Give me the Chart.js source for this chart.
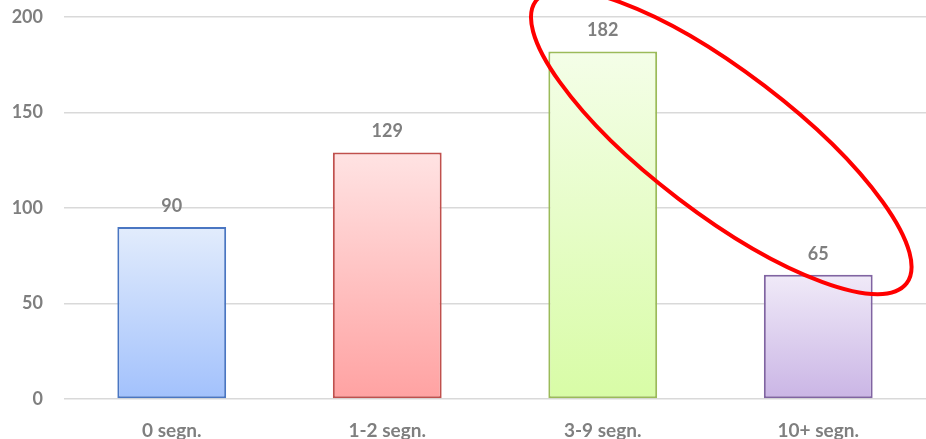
<!DOCTYPE html>
<html>
<head>
<meta charset="utf-8">
<script src="https://cdn.jsdelivr.net/npm/chart.js@4"></script>
<style>
  html, body { margin: 0; padding: 0; background: #fff; }
  #wrap { width: 926px; height: 439px; }
</style>
</head>
<body>
<div id="wrap"><canvas id="myBarChart" width="926" height="439"></canvas></div>
<script>
// data
const categories = ['0 segn.', '1-2 segn.', '3-9 segn.', '10+ segn.'];
const counts = [90, 129, 182, 65];
const yTicks = [0, 50, 100, 150, 200];

// bar colours: top of gradient, bottom of gradient, border
const topColors = ['#e2ecfc', '#ffe3e3', '#f4fee8', '#f0eaf8'];
const bottomColors = ['#a2c1fc', '#ffa2a2', '#d8fca6', '#cab5e5'];
const borderColors = ['#4a76c2', '#c0504d', '#9bbb59', '#8064a2'];

const textGrey = '#7f7f7f';
const fontFamily = 'Lato, "Liberation Sans", sans-serif';

// gradient fill for each bar, from its own top down to zero
function barGradient(context) {
  const chart = context.chart;
  const area = chart.chartArea;
  const i = context.dataIndex;
  if (!area || !chart.scales.y) return bottomColors[i];
  const yTop = chart.scales.y.getPixelForValue(counts[i]);
  const yBottom = chart.scales.y.getPixelForValue(0);
  const g = chart.ctx.createLinearGradient(0, yTop, 0, yBottom);
  g.addColorStop(0, topColors[i]);
  g.addColorStop(1, bottomColors[i]);
  return g;
}

// value labels above the bars
const valueLabels = {
  id: 'valueLabels',
  afterDatasetsDraw(chart) {
    const ctx = chart.ctx;
    const meta = chart.getDatasetMeta(0);
    ctx.save();
    ctx.font = 'bold 18px ' + fontFamily;
    ctx.fillStyle = textGrey;
    ctx.textAlign = 'center';
    ctx.textBaseline = 'middle';
    meta.data.forEach((bar, i) => {
      ctx.fillText(String(counts[i]), bar.x, bar.y - 21);
    });
    ctx.restore();
  }
};

// the red ring drawn round the last two bars
const redEllipse = {
  id: 'redEllipse',
  afterDraw(chart) {
    const ctx = chart.ctx;
    const cx = chart.scales.x.getPixelForValue(2.55);
    const cy = chart.scales.y.getPixelForValue(134.5);
    ctx.save();
    ctx.beginPath();
    ctx.ellipse(cx, cy, 233, 71, 37.3 * Math.PI / 180, 0, Math.PI * 2);
    ctx.lineWidth = 4;
    ctx.strokeStyle = '#ff0000';
    ctx.stroke();
    ctx.restore();
  }
};

new Chart(document.getElementById('myBarChart').getContext('2d'), {
  type: 'bar',
  data: {
    labels: categories,
    datasets: [{
      data: counts,
      backgroundColor: barGradient,
      borderColor: borderColors,
      borderWidth: 2,
      borderSkipped: false,
      categoryPercentage: 1,
      barPercentage: 0.505
    }]
  },
  options: {
    responsive: false,
    animation: false,
    devicePixelRatio: 1,
    layout: { padding: { top: 17, right: -4, bottom: 0, left: 0 } },
    plugins: {
      legend: { display: false },
      tooltip: { enabled: false }
    },
    scales: {
      x: {
        afterFit(scale) {
          scale.height = 40;
          scale.paddingLeft = 0;
          scale.paddingRight = 0;
        },
        grid: { display: false, drawTicks: false },
        border: { display: false },
        ticks: {
          color: textGrey,
          padding: 20,
          font: { family: fontFamily, size: 19, weight: 'bold' }
        }
      },
      y: {
        min: 0,
        max: 200,
        afterBuildTicks(scale) {
          scale.ticks = yTicks.map(v => ({ value: v }));
        },
        afterFit(scale) {
          scale.width = 64;
          scale.paddingTop = 0;
          scale.paddingBottom = 0;
        },
        grid: { color: '#d9d9d9', lineWidth: 1.5, drawTicks: false },
        border: { display: false },
        ticks: {
          color: textGrey,
          padding: 21,
          font: { family: fontFamily, size: 18, weight: 'bold' }
        }
      }
    }
  },
  plugins: [valueLabels, redEllipse]
});
</script>
</body>
</html>
